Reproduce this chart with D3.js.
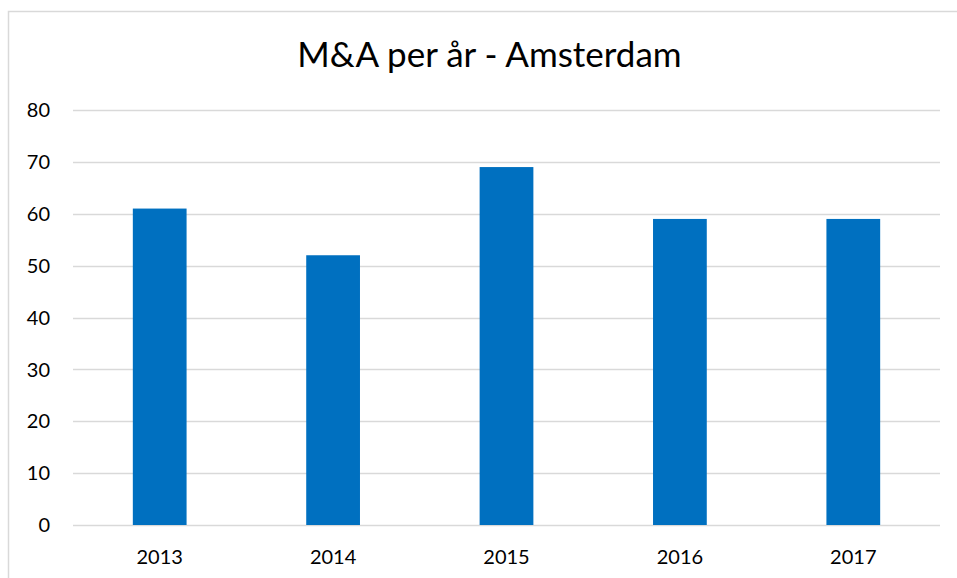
<!DOCTYPE html>
<html>
<head>
<meta charset="utf-8">
<script src="https://cdn.jsdelivr.net/npm/d3@7"></script>
<style>
  body { margin: 0; background: #fff; }
  svg { display: block; font-family: Lato, "Open Sans", sans-serif; }
</style>
</head>
<body>
<div id="chart"></div>
<script>
// data
var years = ['2013', '2014', '2015', '2016', '2017']
var deals = [61, 52, 69, 59, 59]
var yTicks = [0, 10, 20, 30, 40, 50, 60, 70, 80]
var title = 'M&A per år - Amsterdam'

var width = 957,
    height = 578

var svg = d3.select('#chart')
    .append('svg')
    .attr('width', width)
    .attr('height', height)

// chart frame (runs off the right/bottom of the picture)
svg.append('rect')
    .attr('x', 8.5)
    .attr('y', 11.5)
    .attr('width', 962)
    .attr('height', 600)
    .style('fill', 'none')
    .style('stroke', '#d9d9d9')
    .style('stroke-width', 1.5)

var plotLeft = 73, plotRight = 940, plotTop = 110, plotBottom = 525

var x = d3.scaleBand()
    .domain(years)
    .range([plotLeft, plotRight])
    .paddingInner(0.69)
    .paddingOuter(0.345)

var y = d3.scaleLinear()
    .domain([0, 80])
    .range([plotBottom, plotTop])

// gridlines
svg.append('g')
    .selectAll('line')
    .data(yTicks)
    .enter()
    .append('line')
    .attr('x1', plotLeft)
    .attr('x2', plotRight)
    .attr('y1', function(d) { return Math.round(y(d)) + 0.5 })
    .attr('y2', function(d) { return Math.round(y(d)) + 0.5 })
    .style('stroke', '#d9d9d9')
    .style('stroke-width', 1.5)

// y labels
svg.append('g')
    .selectAll('text')
    .data(yTicks)
    .enter()
    .append('text')
    .attr('x', 50)
    .attr('y', function(d) { return y(d) })
    .attr('dy', '0.36em')
    .style('text-anchor', 'end')
    .style('font-size', '20px')
    .style('fill', '#000')
    .text(function(d) { return d })

// bars
svg.append('g')
    .selectAll('rect')
    .data(deals)
    .enter()
    .append('rect')
    .attr('x', function(d, i) { return x(years[i]) })
    .attr('y', function(d) { return y(d) })
    .attr('width', x.bandwidth())
    .attr('height', function(d) { return plotBottom - y(d) })
    .style('fill', '#0070c0')

// x labels
svg.append('g')
    .selectAll('text')
    .data(years)
    .enter()
    .append('text')
    .attr('x', function(d) { return x(d) + x.bandwidth() / 2 })
    .attr('y', 557)
    .attr('dy', '0.36em')
    .style('text-anchor', 'middle')
    .style('font-size', '20px')
    .style('fill', '#000')
    .text(function(d) { return d })

// title
svg.append('text')
    .attr('x', 489.5)
    .attr('y', 67)
    .style('text-anchor', 'middle')
    .style('font-size', '35px')
    .style('fill', '#000')
    .text(title)
</script>
</body>
</html>
